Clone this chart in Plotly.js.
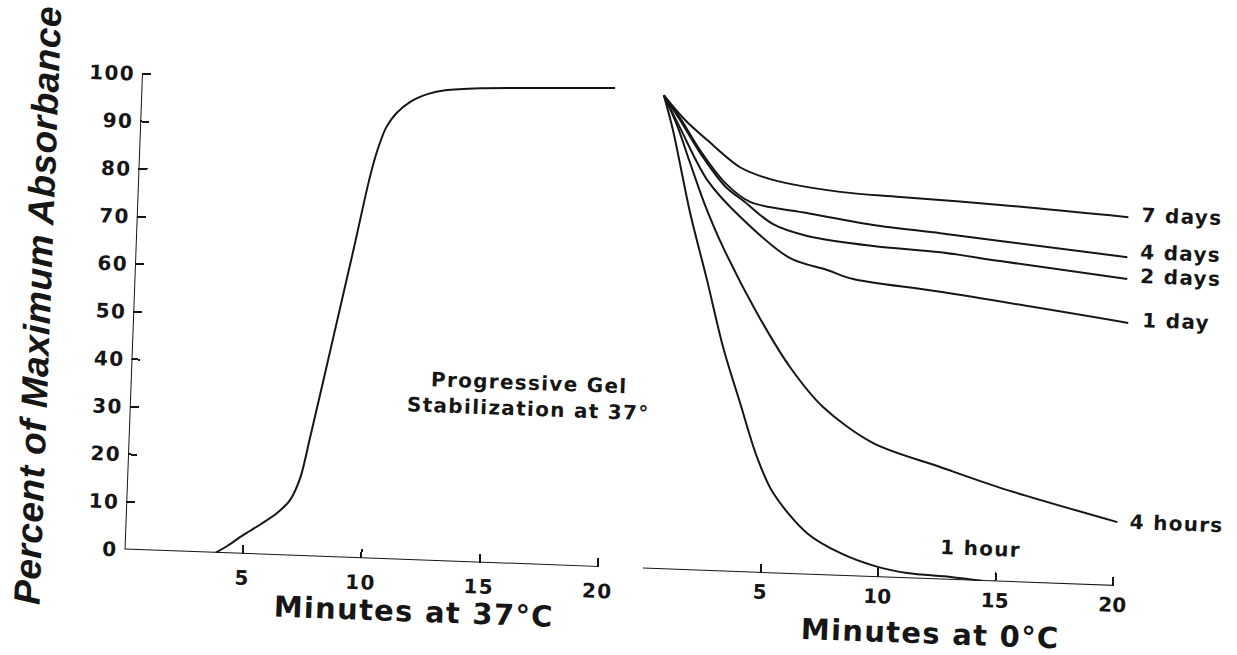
<!DOCTYPE html>
<html>
<head>
<meta charset="utf-8">
<script src="https://cdn.plot.ly/plotly-3.0.1.min.js"></script>
<style>
  html, body { margin: 0; padding: 0; background: #fff; overflow: hidden; }
  /* the figure sits slightly turned on the page, as printed */
  #chart { width: 1237px; height: 655px; transform: rotate(2.1deg); transform-origin: 618.5px 327.5px; }
  #chart .xtick text, #chart .ytick text, #chart .annotation-text { letter-spacing: 1.3px; }
  #chart .annotation[data-index="0"] .annotation-text { letter-spacing: 0.5px; }
</style>
</head>
<body>
<div id="chart"></div>
<script>
// Gel formation while warming at 37 °C
const warmMinutes = [3.84, 4.37, 4.99, 5.69, 6.39, 6.91, 7.30, 7.66, 8.48, 9.19, 9.79, 10.08, 10.39, 10.79, 11.36, 12.11, 12.82, 14.29, 16.82, 19.98];
const warmPercent = [0, 1.7, 4.0, 6.3, 8.9, 11.7, 16.4, 25.1, 46.2, 64.6, 80.5, 86.3, 90.7, 93.7, 96.2, 98.0, 98.9, 99.6, 100.1, 100.7];

// Loss of absorbance at 0 °C after each stabilization period at 37 °C
const days7Minutes = [0.15, 1.09, 2.05, 3.50, 4.92, 7.79, 10.35, 14.62, 20.08];
const days7Percent = [99.5, 94.5, 90.5, 85.0, 82.6, 80.6, 80.0, 79.1, 77.5];

const days4Minutes = [0.15, 0.87, 1.77, 2.89, 3.98, 6.42, 9.25, 12.11, 14.67, 20.10];
const days4Percent = [99.5, 94.9, 88.3, 81.6, 77.8, 75.9, 73.9, 72.7, 71.5, 69.1];

const days2Minutes = [0.15, 0.87, 1.78, 2.89, 3.77, 4.99, 6.46, 9.28, 12.14, 14.70, 20.13];
const days2Percent = [99.5, 94.5, 87.7, 80.9, 77.7, 73.3, 71.1, 69.5, 68.7, 67.3, 64.5];

const day1Minutes = [0.15, 0.89, 2.12, 3.58, 5.77, 7.36, 8.48, 12.20, 20.24];
const day1Percent = [99.5, 92.8, 82.1, 74.6, 66.3, 64.1, 62.4, 60.4, 55.3];

const hours4Minutes = [0.15, 0.75, 1.37, 2.07, 2.90, 4.45, 5.94, 7.40, 9.59, 12.47, 15.06, 20.09];
const hours4Percent = [99.5, 93.4, 85.5, 76.8, 68.1, 54.5, 43.4, 35.3, 28.1, 23.6, 19.7, 13.4];

const hour1Minutes = [0.15, 0.59, 1.45, 2.27, 3.06, 3.87, 4.67, 5.41, 6.92, 8.35, 9.86, 11.23, 13.07, 14.5];
const hour1Percent = [99.5, 92.3, 75.0, 61.1, 47.1, 35.5, 24.3, 16.9, 8.7, 4.8, 2.3, 1.1, 0.6, 0];

const percentTicks = [0, 10, 20, 30, 40, 50, 60, 70, 80, 90, 100];
const warmTicks = [5, 10, 15, 20];
const coldTicks = [0, 5, 10, 15, 20];
const coldTickText = ['', '5', '10', '15', '20'];

const ink = '#161616';
const wide = 'DejaVu Sans';

const coldSeries = [
  { name: '7 days',  x: days7Minutes,  y: days7Percent,  dy: 3 },
  { name: '4 days',  x: days4Minutes,  y: days4Percent,  dy: 6 },
  { name: '2 days',  x: days2Minutes,  y: days2Percent,  dy: 3 },
  { name: '1 day',   x: day1Minutes,   y: day1Percent,   dy: 3 },
  { name: '4 hours', x: hours4Minutes, y: hours4Percent, dy: 1 },
  { name: '1 hour',  x: hour1Minutes,  y: hour1Percent,  dy: 0 }
];

const lineStyle = { color: ink, width: 2, shape: 'spline', smoothing: 0.9 };

const traces = [
  { x: warmMinutes, y: warmPercent, xaxis: 'x', yaxis: 'y', mode: 'lines',
    line: lineStyle, name: 'Gel formation', hoverinfo: 'skip' }
].concat(coldSeries.map(s => ({
  x: s.x, y: s.y, xaxis: 'x2', yaxis: 'y', mode: 'lines',
  line: lineStyle, name: s.name, hoverinfo: 'skip'
})));

const labelFont = { family: wide, size: 20, color: ink, weight: 'bold' };
const titleFont = { family: wide, size: 29, color: ink, weight: 'bold' };

const annotations = [
  { xref: 'paper', yref: 'paper', x: 0.0307, y: 0.5023, textangle: -90,
    text: 'Percent of Maximum Absorbance', showarrow: false,
    xanchor: 'center', yanchor: 'middle',
    font: { family: 'Liberation Sans', size: 37, color: ink, weight: 'bold', style: 'italic' } },
  { xref: 'paper', yref: 'paper', x: 0.3433, y: 0.0545, text: 'Minutes at 37°C',
    showarrow: false, xanchor: 'center', yanchor: 'middle', font: titleFont },
  { xref: 'paper', yref: 'paper', x: 0.7607, y: 0.0498, text: 'Minutes at 0°C',
    showarrow: false, xanchor: 'center', yanchor: 'middle', font: titleFont },
  { xref: 'paper', yref: 'paper', x: 0.4300, y: 0.3908,
    text: 'Progressive Gel<br>Stabilization at 37°', align: 'center',
    showarrow: false, xanchor: 'center', yanchor: 'middle', font: labelFont }
];

coldSeries.forEach(s => {
  if (s.name === '1 hour') {
    annotations.push({ xref: 'x2', yref: 'y', x: 14.3, y: 6.9, text: s.name,
      showarrow: false, xanchor: 'center', yanchor: 'middle', font: labelFont });
  } else {
    annotations.push({ xref: 'x2', yref: 'y', x: s.x[s.x.length - 1], y: s.y[s.y.length - 1],
      text: s.name, showarrow: false, xanchor: 'left', yanchor: 'middle',
      xshift: 15, yshift: s.dy, font: labelFont });
  }
});

const tickFont = { family: wide, size: 20, color: ink, weight: 'bold' };

// y runs a little past 100 so the top of the plateau is not clipped;
// the axis line itself is drawn from 0 to 100 only.
const yTop = 101;
const plotBottom = 655 - 567.5, plotTop = 655 - (91.5 - 4.76 * (yTop - 100));

const layout = {
  width: 1237, height: 655,
  margin: { l: 0, r: 0, t: 0, b: 0 },
  paper_bgcolor: '#fff', plot_bgcolor: 'rgba(0,0,0,0)',
  showlegend: false,
  xaxis: {
    domain: [133 / 1237, 609.2 / 1237], range: [0, 20.1], anchor: 'y',
    tickmode: 'array', tickvals: warmTicks, ticks: 'inside', ticklen: 9, tickwidth: 2, tickcolor: ink,
    showline: false, zeroline: false, showgrid: false, layer: 'above traces',
    tickfont: tickFont, ticklabelstandoff: 10, automargin: false, fixedrange: true
  },
  xaxis2: {
    domain: [651.8 / 1237, 1131.5 / 1237], range: [0, 20.4], anchor: 'y',
    tickmode: 'array', tickvals: coldTicks, ticktext: coldTickText, ticks: 'inside', ticklen: 9, tickwidth: 2, tickcolor: ink,
    showline: false, zeroline: false, showgrid: false, layer: 'above traces',
    tickfont: tickFont, ticklabelstandoff: 5, automargin: false, fixedrange: true
  },
  yaxis: {
    domain: [plotBottom / 655, plotTop / 655], range: [0, yTop], anchor: 'x',
    tickmode: 'array', tickvals: percentTicks, ticks: 'inside', ticklen: 9, tickwidth: 2, tickcolor: ink,
    showline: false, zeroline: false, showgrid: false, layer: 'above traces',
    tickfont: tickFont, ticklabelstandoff: 6, automargin: false, fixedrange: true
  },
  shapes: [
    { type: 'line', xref: 'x', yref: 'y', x0: 0, x1: 0, y0: 0, y1: 100, line: { color: ink, width: 2 } },
    { type: 'line', xref: 'x', yref: 'y', x0: 0, x1: 20, y0: 0, y1: 0, line: { color: ink, width: 2 } },
    { type: 'line', xref: 'x2', yref: 'y', x0: 0, x1: 20, y0: 0, y1: 0, line: { color: ink, width: 2 } }
  ],
  annotations: annotations
};

Plotly.newPlot('chart', traces, layout, { staticPlot: true, displayModeBar: false });
</script>
</body>
</html>
